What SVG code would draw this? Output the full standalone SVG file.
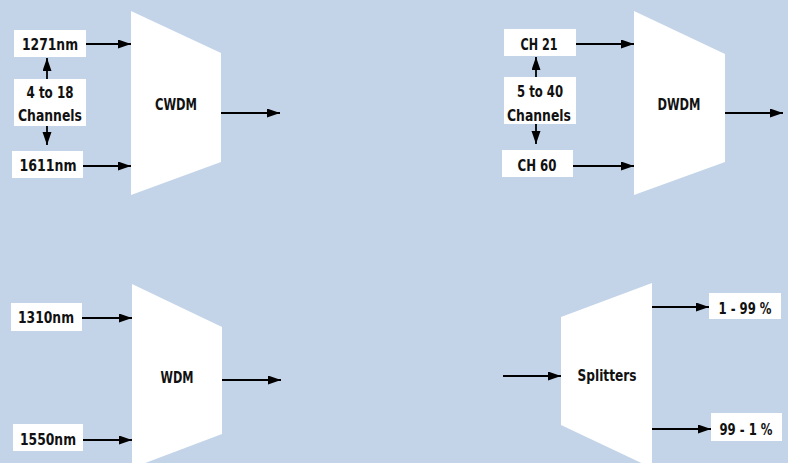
<svg xmlns="http://www.w3.org/2000/svg" width="788" height="463" viewBox="0 0 788 463">
<defs>
<style>
.bg{fill:#c3d4e9}
.box{fill:#ffffff}
.t{font-family:"DejaVu Sans Condensed","DejaVu Sans","Liberation Sans",sans-serif;font-weight:bold;font-size:16px;fill:#111111;text-anchor:middle}
.c line{stroke:#000000;stroke-width:1.8;fill:none;marker-end:url(#ah)}
</style>
<marker id="ah" markerUnits="userSpaceOnUse" markerWidth="14" markerHeight="10" refX="13" refY="4.5" orient="auto">
<path d="M0,0 L13,4.5 L0,9 z" fill="#000000"/>
</marker>
</defs>
<rect class="bg" x="0" y="0" width="788" height="463"/>

<g id="cwdm">
<polygon class="box" points="131,11 221,53 221,162 131,195"/>
<text class="t" x="176" y="110" textLength="42" lengthAdjust="spacingAndGlyphs">CWDM</text>
</g>
<g id="n1271">
<rect class="box" x="14" y="30" width="72" height="27"/>
<text class="t" x="50" y="50" textLength="56" lengthAdjust="spacingAndGlyphs">1271nm</text>
</g>
<g id="cwdm-channels">
<rect class="box" x="14" y="79" width="72" height="47"/>
<text class="t" x="50" y="98" textLength="47" lengthAdjust="spacingAndGlyphs">4 to 18</text>
<text class="t" x="50" y="121" textLength="64" lengthAdjust="spacingAndGlyphs">Channels</text>
</g>
<g id="n1611">
<rect class="box" x="12" y="151" width="71" height="27"/>
<text class="t" x="48" y="171" textLength="57" lengthAdjust="spacingAndGlyphs">1611nm</text>
</g>

<g id="dwdm">
<polygon class="box" points="634,11 725,54 725,162 634,195"/>
<text class="t" x="679" y="110" textLength="43" lengthAdjust="spacingAndGlyphs">DWDM</text>
</g>
<g id="ch21">
<rect class="box" x="504" y="29" width="72" height="27"/>
<text class="t" x="539" y="50" textLength="37" lengthAdjust="spacingAndGlyphs">CH 21</text>
</g>
<g id="dwdm-channels">
<rect class="box" x="504" y="77" width="72" height="47"/>
<text class="t" x="540" y="97" textLength="46" lengthAdjust="spacingAndGlyphs">5 to 40</text>
<text class="t" x="539" y="121" textLength="64" lengthAdjust="spacingAndGlyphs">Channels</text>
</g>
<g id="ch60">
<rect class="box" x="502" y="150" width="71" height="27"/>
<text class="t" x="537" y="171" textLength="39" lengthAdjust="spacingAndGlyphs">CH 60</text>
</g>

<g id="wdm">
<polygon class="box" points="132,284 222,327 222,434 132,468"/>
<text class="t" x="177" y="383" textLength="33" lengthAdjust="spacingAndGlyphs">WDM</text>
</g>
<g id="n1310">
<rect class="box" x="11" y="303" width="71" height="28"/>
<text class="t" x="46" y="323" textLength="56" lengthAdjust="spacingAndGlyphs">1310nm</text>
</g>
<g id="n1550">
<rect class="box" x="13" y="424" width="70" height="27"/>
<text class="t" x="48" y="445" textLength="56" lengthAdjust="spacingAndGlyphs">1550nm</text>
</g>

<g id="splitters">
<polygon class="box" points="561,317 652,283 652,468 561,425"/>
<text class="t" x="607" y="381" textLength="59" lengthAdjust="spacingAndGlyphs">Splitters</text>
</g>
<g id="p1-99">
<rect class="box" x="709" y="293" width="72" height="26"/>
<text class="t" x="745" y="314" textLength="53" lengthAdjust="spacingAndGlyphs">1 - 99 %</text>
</g>
<g id="p99-1">
<rect class="box" x="711" y="413" width="71" height="28"/>
<text class="t" x="746" y="435" textLength="53" lengthAdjust="spacingAndGlyphs">99 - 1 %</text>
</g>

<g id="connectors" class="c">
<line x1="86" y1="44" x2="131" y2="44"/>
<line x1="83" y1="166" x2="131" y2="166"/>
<line x1="47" y1="79" x2="47" y2="58"/>
<line x1="47" y1="126" x2="47" y2="145"/>
<line x1="221" y1="113" x2="280" y2="113"/>

<line x1="576" y1="44" x2="634" y2="44"/>
<line x1="573" y1="166" x2="634" y2="166"/>
<line x1="536" y1="77" x2="536" y2="57"/>
<line x1="536" y1="124" x2="536" y2="144"/>
<line x1="725" y1="113" x2="783" y2="113"/>

<line x1="82" y1="318" x2="132" y2="318"/>
<line x1="83" y1="440" x2="132" y2="440"/>
<line x1="222" y1="380" x2="281" y2="380"/>

<line x1="503" y1="376" x2="561" y2="376"/>
<line x1="652" y1="307" x2="709" y2="307"/>
<line x1="652" y1="429" x2="711" y2="429"/>
</g>
</svg>
